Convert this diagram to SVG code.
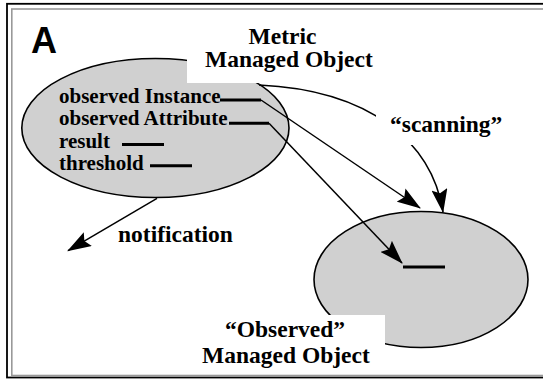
<svg xmlns="http://www.w3.org/2000/svg" width="543" height="380" viewBox="0 0 543 380">
  <style>
    .lbl { font-family: "Liberation Serif", "Times New Roman", serif; font-weight: bold; fill: #000; }
    .big { font-size: 23.5px; }
    .attr { font-size: 21px; }
    .obj { fill: #d0d0d0; stroke: #000; stroke-width: 1.6; }
    .stub { stroke: #000; stroke-width: 3; fill: none; }
    .conn { stroke: #000; stroke-width: 1.5; fill: none; marker-end: url(#arrow); }
    .mask { fill: #fff; stroke: none; }
  </style>
  <defs>
    <marker id="arrow" markerUnits="userSpaceOnUse" viewBox="0 0 24 16" refX="23" refY="8" markerWidth="24" markerHeight="16" orient="auto">
      <path d="M0,0 L24,8 L0,16 L4,8 Z" fill="#000"/>
    </marker>
  </defs>

  <!-- double frame, right edge runs off the page -->
  <g id="frame">
    <rect x="7" y="3.8" width="560" height="373.7" fill="none" stroke="#000" stroke-width="1.8"/>
    <rect x="11.8" y="9" width="560" height="366.5" fill="none" stroke="#999" stroke-width="1.6"/>
  </g>

  <g id="panel-label">
    <text x="31" y="53.3" font-family="Liberation Sans, Arial, sans-serif" font-weight="bold" font-size="36">A</text>
  </g>

  <g id="metric-object">
    <ellipse class="obj" cx="155.4" cy="128" rx="133.6" ry="69.5"/>
    <path class="stub" d="M220,100 H261 M229,123.3 H269 M122,144.5 H164 M150,165.8 H192"/>
    <text class="lbl attr" x="59" y="102.5">observed Instance</text>
    <text class="lbl attr" x="59" y="125">observed Attribute</text>
    <text class="lbl attr" x="59" y="147.5">result</text>
    <text class="lbl attr" x="59" y="170">threshold</text>
  </g>

  <g id="observed-object">
    <ellipse class="obj" cx="421" cy="279.5" rx="107" ry="68"/>
    <path class="stub" d="M403,267 H445"/>
  </g>

  <g id="connectors">
    <path class="conn" d="M261,100 L420,208"/>
    <path class="conn" d="M269,123.3 L402,263"/>
    <path class="conn" d="M157,198.3 L68,250.7"/>
    <path class="conn" d="M259,85 C370,90 432,142 443,212"/>
  </g>

  <g id="metric-label">
    <rect class="mask" x="187" y="18" width="190" height="65"/>
    <text class="lbl big" x="282.5" y="44.3" text-anchor="middle">Metric</text>
    <text class="lbl big" x="205" y="66.7">Managed Object</text>
  </g>

  <g id="scanning-label">
    <rect class="mask" x="376" y="113" width="134" height="32"/>
    <text class="lbl big" x="390" y="131.7">“scanning”</text>
  </g>

  <g id="notification-label">
    <text class="lbl big" x="118" y="241.7">notification</text>
  </g>

  <g id="observed-label">
    <rect class="mask" x="195" y="315" width="190" height="55"/>
    <text class="lbl big" x="225" y="336.7">“Observed”</text>
    <text class="lbl big" x="202" y="363.3">Managed Object</text>
  </g>
</svg>
